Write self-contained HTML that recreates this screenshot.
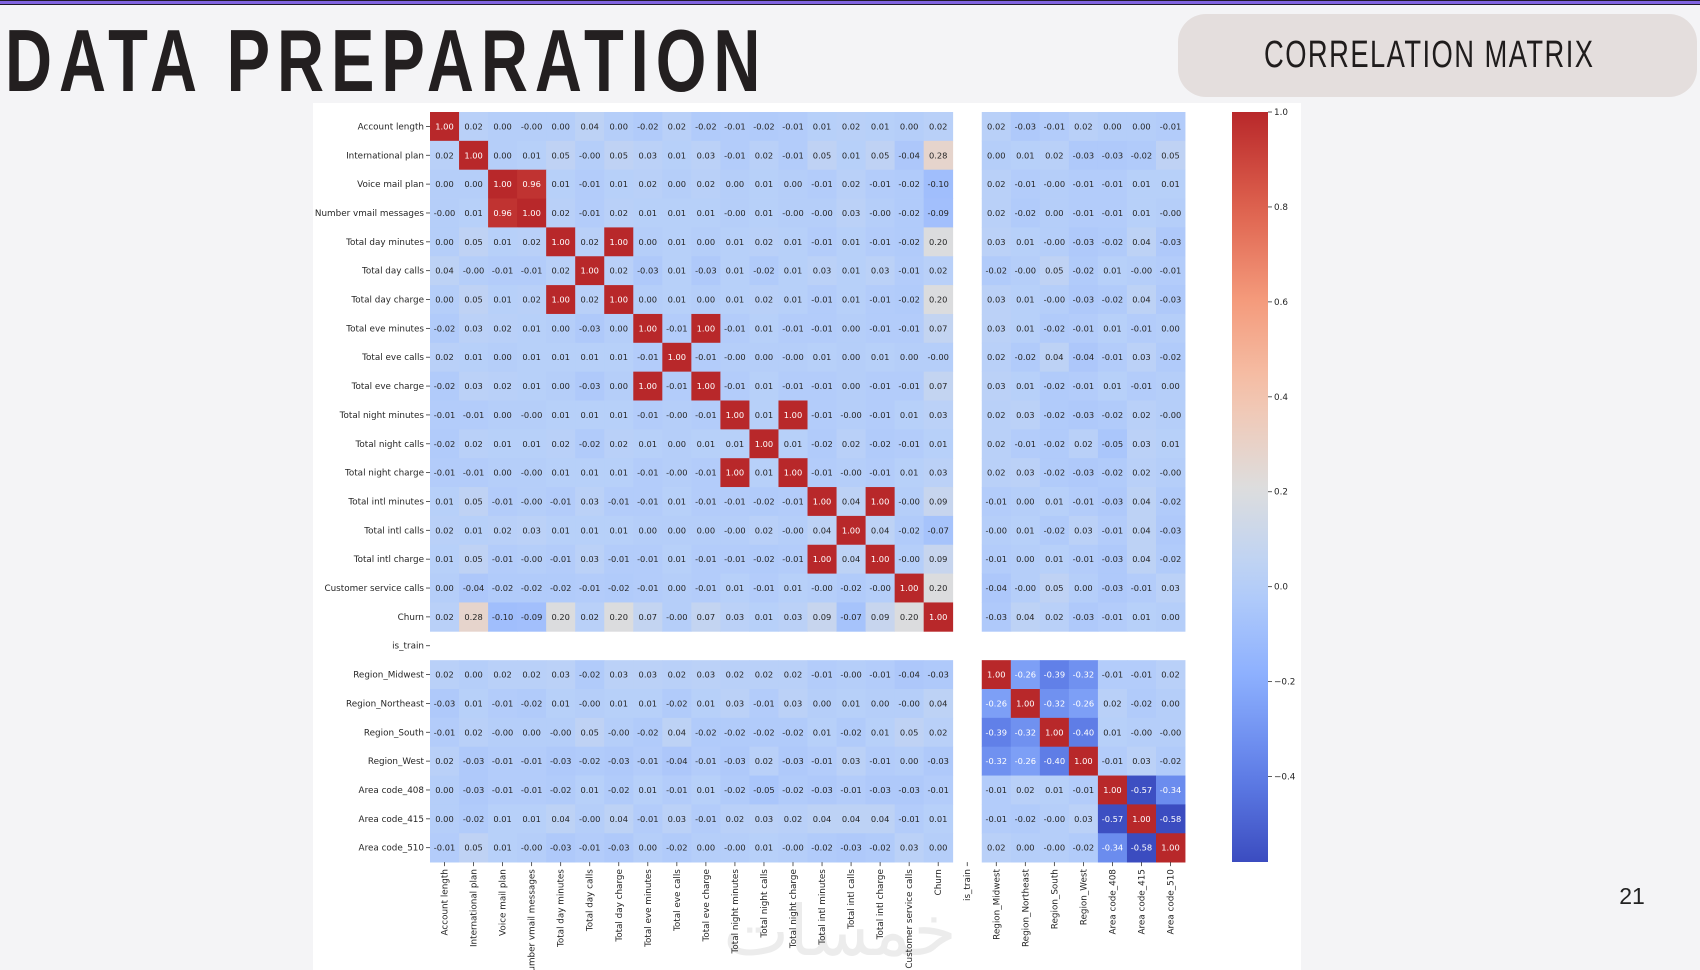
<!DOCTYPE html>
<html><head><meta charset="utf-8"><title>Data Preparation - Correlation Matrix</title>
<style>
html,body{margin:0;padding:0;background:#f4f4f6;}
svg{display:block;}
</style></head>
<body>
<svg id="root" width="1700" height="970" viewBox="0 0 1700 970" xmlns="http://www.w3.org/2000/svg">
<rect x="0" y="0" width="1700" height="970" fill="#f4f4f6"/>
<rect x="0" y="0" width="1700" height="5" fill="#1e1a2a"/>
<rect x="0" y="1" width="1700" height="3" fill="#8063e0"/>
<g transform="translate(5,91) scale(0.74,1)">
<text x="0" y="0" font-family="'Liberation Sans Narrow','Liberation Sans',sans-serif" font-weight="bold" font-size="88" letter-spacing="9.4" fill="#231f20">DATA PREPARATION</text>
</g>
<rect x="1178" y="14" width="519" height="83" rx="28" fill="#e4dedd"/>
<g transform="translate(1264,67) scale(0.72,1)">
<text x="0" y="0" font-family="'Liberation Sans Narrow','Liberation Sans',sans-serif" font-size="38" letter-spacing="2" fill="#1f1c1c">CORRELATION MATRIX</text>
</g>
<rect x="313" y="103" width="988" height="867" fill="#ffffff"/>
<text x="840" y="955" font-family="'DejaVu Sans',sans-serif" font-size="70" fill="#ececec" text-anchor="middle">خمسات</text>
<g id="heat"></g>
<g id="cbar"></g>
<text x="1632" y="904" font-family="'Liberation Sans',sans-serif" font-size="23" fill="#222" text-anchor="middle">21</text>
</svg>
<script>
const labels = ["Account length","International plan","Voice mail plan","Number vmail messages","Total day minutes","Total day calls","Total day charge","Total eve minutes","Total eve calls","Total eve charge","Total night minutes","Total night calls","Total night charge","Total intl minutes","Total intl calls","Total intl charge","Customer service calls","Churn","is_train","Region_Midwest","Region_Northeast","Region_South","Region_West","Area code_408","Area code_415","Area code_510"];
const emptyIndex = 18;
const rows = [
"1.00 0.02 0.00 -0.00 0.00 0.04 0.00 -0.02 0.02 -0.02 -0.01 -0.02 -0.01 0.01 0.02 0.01 0.00 0.02 0.02 -0.03 -0.01 0.02 0.00 0.00 -0.01",
"0.02 1.00 0.00 0.01 0.05 -0.00 0.05 0.03 0.01 0.03 -0.01 0.02 -0.01 0.05 0.01 0.05 -0.04 0.28 0.00 0.01 0.02 -0.03 -0.03 -0.02 0.05",
"0.00 0.00 1.00 0.96 0.01 -0.01 0.01 0.02 0.00 0.02 0.00 0.01 0.00 -0.01 0.02 -0.01 -0.02 -0.10 0.02 -0.01 -0.00 -0.01 -0.01 0.01 0.01",
"-0.00 0.01 0.96 1.00 0.02 -0.01 0.02 0.01 0.01 0.01 -0.00 0.01 -0.00 -0.00 0.03 -0.00 -0.02 -0.09 0.02 -0.02 0.00 -0.01 -0.01 0.01 -0.00",
"0.00 0.05 0.01 0.02 1.00 0.02 1.00 0.00 0.01 0.00 0.01 0.02 0.01 -0.01 0.01 -0.01 -0.02 0.20 0.03 0.01 -0.00 -0.03 -0.02 0.04 -0.03",
"0.04 -0.00 -0.01 -0.01 0.02 1.00 0.02 -0.03 0.01 -0.03 0.01 -0.02 0.01 0.03 0.01 0.03 -0.01 0.02 -0.02 -0.00 0.05 -0.02 0.01 -0.00 -0.01",
"0.00 0.05 0.01 0.02 1.00 0.02 1.00 0.00 0.01 0.00 0.01 0.02 0.01 -0.01 0.01 -0.01 -0.02 0.20 0.03 0.01 -0.00 -0.03 -0.02 0.04 -0.03",
"-0.02 0.03 0.02 0.01 0.00 -0.03 0.00 1.00 -0.01 1.00 -0.01 0.01 -0.01 -0.01 0.00 -0.01 -0.01 0.07 0.03 0.01 -0.02 -0.01 0.01 -0.01 0.00",
"0.02 0.01 0.00 0.01 0.01 0.01 0.01 -0.01 1.00 -0.01 -0.00 0.00 -0.00 0.01 0.00 0.01 0.00 -0.00 0.02 -0.02 0.04 -0.04 -0.01 0.03 -0.02",
"-0.02 0.03 0.02 0.01 0.00 -0.03 0.00 1.00 -0.01 1.00 -0.01 0.01 -0.01 -0.01 0.00 -0.01 -0.01 0.07 0.03 0.01 -0.02 -0.01 0.01 -0.01 0.00",
"-0.01 -0.01 0.00 -0.00 0.01 0.01 0.01 -0.01 -0.00 -0.01 1.00 0.01 1.00 -0.01 -0.00 -0.01 0.01 0.03 0.02 0.03 -0.02 -0.03 -0.02 0.02 -0.00",
"-0.02 0.02 0.01 0.01 0.02 -0.02 0.02 0.01 0.00 0.01 0.01 1.00 0.01 -0.02 0.02 -0.02 -0.01 0.01 0.02 -0.01 -0.02 0.02 -0.05 0.03 0.01",
"-0.01 -0.01 0.00 -0.00 0.01 0.01 0.01 -0.01 -0.00 -0.01 1.00 0.01 1.00 -0.01 -0.00 -0.01 0.01 0.03 0.02 0.03 -0.02 -0.03 -0.02 0.02 -0.00",
"0.01 0.05 -0.01 -0.00 -0.01 0.03 -0.01 -0.01 0.01 -0.01 -0.01 -0.02 -0.01 1.00 0.04 1.00 -0.00 0.09 -0.01 0.00 0.01 -0.01 -0.03 0.04 -0.02",
"0.02 0.01 0.02 0.03 0.01 0.01 0.01 0.00 0.00 0.00 -0.00 0.02 -0.00 0.04 1.00 0.04 -0.02 -0.07 -0.00 0.01 -0.02 0.03 -0.01 0.04 -0.03",
"0.01 0.05 -0.01 -0.00 -0.01 0.03 -0.01 -0.01 0.01 -0.01 -0.01 -0.02 -0.01 1.00 0.04 1.00 -0.00 0.09 -0.01 0.00 0.01 -0.01 -0.03 0.04 -0.02",
"0.00 -0.04 -0.02 -0.02 -0.02 -0.01 -0.02 -0.01 0.00 -0.01 0.01 -0.01 0.01 -0.00 -0.02 -0.00 1.00 0.20 -0.04 -0.00 0.05 0.00 -0.03 -0.01 0.03",
"0.02 0.28 -0.10 -0.09 0.20 0.02 0.20 0.07 -0.00 0.07 0.03 0.01 0.03 0.09 -0.07 0.09 0.20 1.00 -0.03 0.04 0.02 -0.03 -0.01 0.01 0.00",
"0.02 0.00 0.02 0.02 0.03 -0.02 0.03 0.03 0.02 0.03 0.02 0.02 0.02 -0.01 -0.00 -0.01 -0.04 -0.03 1.00 -0.26 -0.39 -0.32 -0.01 -0.01 0.02",
"-0.03 0.01 -0.01 -0.02 0.01 -0.00 0.01 0.01 -0.02 0.01 0.03 -0.01 0.03 0.00 0.01 0.00 -0.00 0.04 -0.26 1.00 -0.32 -0.26 0.02 -0.02 0.00",
"-0.01 0.02 -0.00 0.00 -0.00 0.05 -0.00 -0.02 0.04 -0.02 -0.02 -0.02 -0.02 0.01 -0.02 0.01 0.05 0.02 -0.39 -0.32 1.00 -0.40 0.01 -0.00 -0.00",
"0.02 -0.03 -0.01 -0.01 -0.03 -0.02 -0.03 -0.01 -0.04 -0.01 -0.03 0.02 -0.03 -0.01 0.03 -0.01 0.00 -0.03 -0.32 -0.26 -0.40 1.00 -0.01 0.03 -0.02",
"0.00 -0.03 -0.01 -0.01 -0.02 0.01 -0.02 0.01 -0.01 0.01 -0.02 -0.05 -0.02 -0.03 -0.01 -0.03 -0.03 -0.01 -0.01 0.02 0.01 -0.01 1.00 -0.57 -0.34",
"0.00 -0.02 0.01 0.01 0.04 -0.00 0.04 -0.01 0.03 -0.01 0.02 0.03 0.02 0.04 0.04 0.04 -0.01 0.01 -0.01 -0.02 -0.00 0.03 -0.57 1.00 -0.58",
"-0.01 0.05 0.01 -0.00 -0.03 -0.01 -0.03 0.00 -0.02 0.00 -0.00 0.01 -0.00 -0.02 -0.03 -0.02 0.03 0.00 0.02 0.00 -0.00 -0.02 -0.34 -0.58 1.00"
];
const cbarTicks = [1.0, 0.8, 0.6, 0.4, 0.2, 0.0, -0.2, -0.4];
const cbarTickLabels = ["1.0","0.8","0.6","0.4","0.2","0.0","\u22120.2","\u22120.4"];
const vmin = -0.58, vmax = 1.0;

const NS = "http://www.w3.org/2000/svg";
const X0 = 430, Y0 = 112, CW = 29.04, CH = 28.85;
const N = labels.length;
function xPos(i){ return X0 + i*CW; }
function yPos(i){ return Y0 + i*CH; }
const cmapStops = [[59,76,192],[98,130,234],[141,176,254],[184,208,249],[221,221,221],[245,196,173],[244,154,123],[222,96,77],[184,40,42]];
function cmap(v){
  let t = (v - vmin)/(vmax - vmin); t = Math.max(0, Math.min(1, t));
  const p = t*(cmapStops.length-1); const i = Math.min(Math.floor(p), cmapStops.length-2); const f = p - i;
  const a = cmapStops[i], b = cmapStops[i+1];
  return [0,1,2].map(k => Math.round(a[k] + (b[k]-a[k])*f));
}
function lum(c){
  const l = c.map(x => { x/=255; return x<=0.03928 ? x/12.92 : Math.pow((x+0.055)/1.055, 2.4); });
  return 0.2126*l[0] + 0.7152*l[1] + 0.0722*l[2];
}
function mk(tag, attrs, parent){
  const e = document.createElementNS(NS, tag);
  for (const k in attrs) e.setAttribute(k, attrs[k]);
  parent.appendChild(e); return e;
}
function idxToGrid(i){ return i < emptyIndex ? i : i + 1; }

const heat = document.getElementById('heat');
const matrix = rows.map(r => r.split(' '));
matrix.forEach((row, ri) => {
  row.forEach((s, ci) => {
    const v = parseFloat(s);
    const c = cmap(v);
    const gx = idxToGrid(ci), gy = idxToGrid(ri);
    const r = mk('rect', {x: xPos(gx).toFixed(2), y: yPos(gy).toFixed(2), width: (CW+0.4).toFixed(2), height: (CH+0.4).toFixed(2), fill: `rgb(${c[0]},${c[1]},${c[2]})`}, heat);
    
    
    const t = mk('text', {x: (xPos(gx)+CW/2).toFixed(2), y: (yPos(gy)+CH/2+3).toFixed(2), 'text-anchor':'middle', 'font-family':"'DejaVu Sans',sans-serif", 'font-size':'8.3', fill: lum(c) > 0.408 ? '#262626' : '#ffffff'}, heat);
    t.textContent = s;
    
    
  });
});
labels.forEach((lab, i) => {
  const yc = yPos(i) + CH/2;
  const tk = mk('line', {x1: X0-4, x2: X0, y1: yc, y2: yc, stroke: '#333', 'stroke-width': 0.8}, heat);
  
  
  const yl = mk('text', {x: X0-6, y: yc+3, 'text-anchor':'end', 'font-family':"'DejaVu Sans',sans-serif", 'font-size':'8.8', fill:'#262626'}, heat);
  yl.textContent = lab;
  
  
  const xc = xPos(i) + CW/2;
  const tx = mk('line', {x1: xc, x2: xc, y1: Y0+N*CH, y2: Y0+N*CH+4, stroke: '#333', 'stroke-width': 0.8}, heat);
  
  
  const xl = mk('text', {x: 0, y: 0, 'text-anchor':'end', 'font-family':"'DejaVu Sans',sans-serif", 'font-size':'8.8', fill:'#262626', transform:`translate(${(xc+3).toFixed(2)},${(Y0+N*CH+7).toFixed(2)}) rotate(-90)`}, heat);
  xl.textContent = lab;
  
  
});

const cb = document.getElementById('cbar');
const CBX = 1232, CBW = 36, CBT = 112, CBB = 862;
function cbY(v){ return CBT + (vmax - v)/(vmax - vmin)*(CBB - CBT); }
const defs = mk('defs', {}, cb);
const grad = mk('linearGradient', {id:'cg', x1:0, y1:0, x2:0, y2:1}, defs);
for (let k = 0; k <= 20; k++){
  const v = vmax - (vmax - vmin)*k/20; const c = cmap(v);
  mk('stop', {offset: (k/20).toFixed(3), 'stop-color': `rgb(${c[0]},${c[1]},${c[2]})`}, grad);
}
const cbr = mk('rect', {x: CBX, y: CBT, width: CBW, height: CBB-CBT, fill: 'url(#cg)'}, cb);


cbarTicks.forEach((v, i) => {
  const y = cbY(v);
  const l = mk('line', {x1: CBX+CBW, x2: CBX+CBW+4, y1: y, y2: y, stroke:'#333', 'stroke-width':0.8}, cb);
  
  
  const t = mk('text', {x: CBX+CBW+6, y: y+3, 'font-family':"'DejaVu Sans',sans-serif", 'font-size':'8.8', fill:'#262626'}, cb);
  t.textContent = cbarTickLabels[i];
  
  
});
</script>
</body></html>
